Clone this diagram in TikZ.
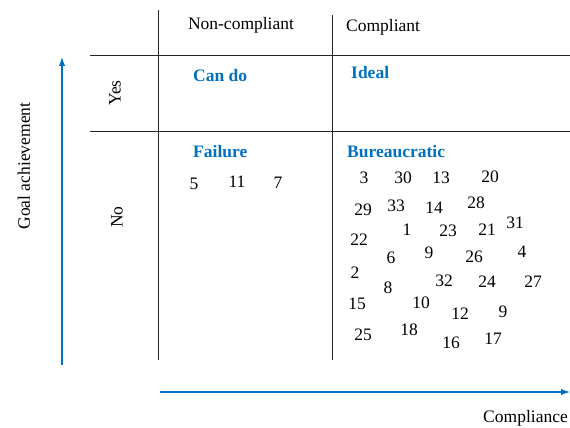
\documentclass[tikz,border=0pt]{standalone}
\usepackage{fontspec}
\setmainfont{Liberation Serif}[BoldFont={Liberation Serif Bold}]
\usetikzlibrary{arrows.meta, positioning}
\definecolor{quadblue}{RGB}{0,112,192}

\begin{document}
\begin{tikzpicture}[x=1pt,y=-1pt,>={Latex[length=9pt,width=6.5pt]},
      every node/.style={font=\fontsize{17.5}{19}\selectfont, inner sep=1pt},
      head/.style={anchor=west},
      quad/.style={anchor=west, text=quadblue, font=\fontsize{17.5}{19}\selectfont\bfseries},
      axis/.style={->, draw=quadblue, line width=1.3pt},
      grid/.style={draw=black!85, line width=0.9pt}]
      \useasboundingbox (0,0) rectangle (570,428);
      % table lines
      \draw[grid] (158,10) -- (158,360);
      \draw[grid] (332,15) -- (332,360);
      \draw[grid] (90,55) -- (570,55);
      \draw[grid] (90,131) -- (570,131);
      % headers
      \node (noncomp) at (241,25) {Non-compliant};
      \node[head] (comp) at (345,27) {Compliant};
      \node[rotate=90] (yes) at (115,93) {Yes};
      \node[rotate=90] (no) at (117,217) {No};
      % quadrants
      \node[quad] (cando) at (192,76) {Can do};
      \node[quad] (ideal) at (350,73) {Ideal};
      \node[quad] (failure) at (192,152) {Failure};
      \node[quad] (bureau) at (346,152) {Bureaucratic};
      % cases
      \foreach \x/\y/\n [count=\i] in {194/184/5, 237/182/11, 278/183/7,
          364/178/3, 403/178/30, 441/178/13, 490/177/20,
          363/210/29, 396/206/33, 434/208/14, 476/203/28,
          407/230/1, 448/231/23, 487/230/21, 515/223/31, 359/240/22,
          391/258/6, 429/253/9, 474/257/26, 522/252/4,
          355/273/2, 388/288/8, 444/281/32, 487/282/24, 533/282/27,
          357/304/15, 421/303/10, 460/314/12, 503/312/9,
          363/335/25, 409/330/18, 451/343/16, 493/339/17}
        \node (c\i) at (\x,\y) {\n};
      % axes
      \coordinate (ybot) at (62,365);
      \coordinate (ytop) at (62,57);
      \coordinate (xleft) at (160,392);
      \coordinate (xright) at (570,392);
      \draw[axis] (ybot) -- (ytop);
      \draw[axis] (xleft) -- (xright);
      \node[rotate=90] (goal) at (24,166) {Goal achievement};
      \node[anchor=east] (compl) at (569,418) {Compliance};
    \end{tikzpicture}
\end{document}
